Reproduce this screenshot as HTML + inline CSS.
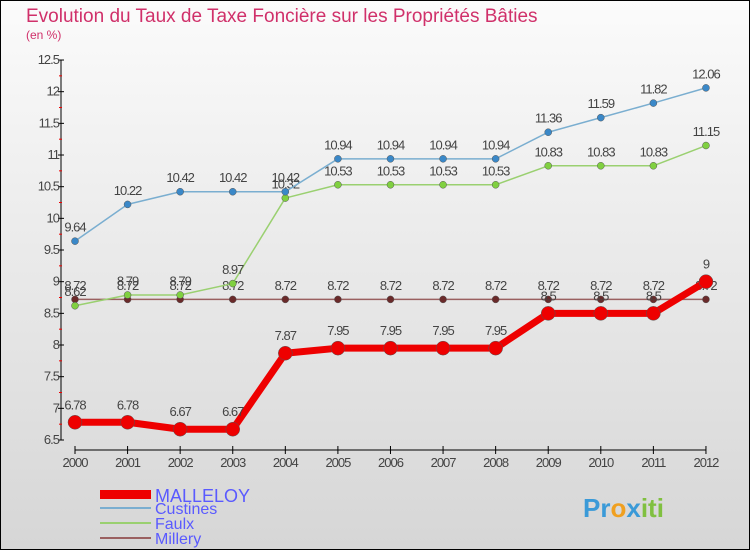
<!DOCTYPE html>
<html><head><meta charset="utf-8"><style>
body{margin:0;}
#c{width:750px;height:550px;position:relative;overflow:hidden;}
text{font-family:"Liberation Sans",sans-serif;}
</style></head><body>
<div id="c">
<svg id="s" width="750" height="550" xmlns="http://www.w3.org/2000/svg">
<defs><linearGradient id="bg" x1="0" y1="0" x2="0" y2="1"><stop offset="0" stop-color="#fbfbfb"/><stop offset="1" stop-color="#d6d6d6"/></linearGradient></defs>
<rect x="0.5" y="0.5" width="749" height="549" fill="url(#bg)" stroke="#000"/>
<text x="26" y="22" font-size="19" fill="#d0306a">Evolution du Taux de Taxe Foncière sur les Propriétés Bâties</text>
<text x="26" y="39" font-size="12" fill="#d0306a">(en %)</text>
<g id="axes"></g><g id="series"></g>
<g>
<rect x="100" y="490" width="51" height="9" fill="#e00"/>
<text x="155" y="502" font-size="18" fill="#5a5aff">MALLELOY</text>
<line x1="100" y1="508" x2="151" y2="508" stroke="#7aaed0" stroke-width="2"/>
<text x="155" y="514" font-size="16" fill="#5a5aff">Custines</text>
<line x1="100" y1="523" x2="151" y2="523" stroke="#9ad070" stroke-width="2"/>
<text x="155" y="529" font-size="16" fill="#5a5aff">Faulx</text>
<line x1="100" y1="538" x2="151" y2="538" stroke="#9a6060" stroke-width="2"/>
<text x="155" y="544" font-size="16" fill="#5a5aff">Millery</text>
</g>
<text x="583" y="517" font-size="26" font-weight="bold" fill="#3a9ad8">Pr<tspan fill="#f0a020">o</tspan><tspan fill="#3a9ad8">x</tspan><tspan fill="#80c040">iti</tspan></text>
</svg></div>
<script>
const years=[2000,2001,2002,2003,2004,2005,2006,2007,2008,2009,2010,2011,2012];
const malleloy=[6.78,6.78,6.67,6.67,7.87,7.95,7.95,7.95,7.95,8.5,8.5,8.5,9];
const custines=[9.64,10.22,10.42,10.42,10.42,10.94,10.94,10.94,10.94,11.36,11.59,11.82,12.06];
const faulx=[8.62,8.79,8.79,8.97,10.32,10.53,10.53,10.53,10.53,10.83,10.83,10.83,11.15];
const millery=[8.72,8.72,8.72,8.72,8.72,8.72,8.72,8.72,8.72,8.72,8.72,8.72,8.72];
const yTicks=["6.5","7","7.5","8","8.5","9","9.5","10","10.5","11","11.5","12","12.5"];
const NS="http://www.w3.org/2000/svg";
const X=i=>75+i*52.58;
const Y=v=>440-(v-6.5)*63.33;
function mk(tag,attrs,parent,txt){const e=document.createElementNS(NS,tag);for(const k in attrs)e.setAttribute(k,attrs[k]);if(txt!==undefined)e.textContent=txt;parent.appendChild(e);return e;}
const ax=document.getElementById('axes'),sg=document.getElementById('series');
let a=mk('line',{x1:61,y1:60,x2:61,y2:440,stroke:'#000'},ax);

yTicks.forEach((t,i)=>{const v=parseFloat(t),y=Y(v);
 let l=mk('line',{x1:58,y1:y,x2:64,y2:y,stroke:'#000'},ax);
 
 let tx=mk('text',{x:59,y:y+4,'font-size':13,fill:'#444','text-anchor':'end','letter-spacing':'-1'},ax,t);
 
 if(i<yTicks.length-1){let m=mk('line',{x1:59,y1:Y(v+0.25),x2:62,y2:Y(v+0.25),stroke:'#e00'},ax);
 }
});
a=mk('line',{x1:75,y1:450,x2:706,y2:450,stroke:'#000'},ax);

years.forEach((yr,i)=>{let l=mk('line',{x1:X(i),y1:446,x2:X(i),y2:454,stroke:'#000'},ax);
 
 let t=mk('text',{x:X(i),y:467,'font-size':13,fill:'#444','text-anchor':'middle','letter-spacing':'-1'},ax,yr);
 });
function series(name,vals,color,dot,w,r,fs){
 const g=mk('g',{},sg);
 const p=mk('polyline',{points:vals.map((v,i)=>X(i)+','+Y(v)).join(' '),fill:'none',stroke:color,'stroke-width':w,'stroke-linejoin':'round'},g);
 
 vals.forEach((v,i)=>{const c=mk('circle',{cx:X(i),cy:Y(v),r:r,fill:dot,stroke:'#555','stroke-width':0.5},g);
 
 const t=mk('text',{x:X(i),y:Y(v)-(r+6),'font-size':fs,fill:'#444','text-anchor':'middle','letter-spacing':'-1'},g,String(v));
 });
}
series('millery',millery,'#9a6060','#6a2a2a',1.5,3.5,13);
series('faulx',faulx,'#9ad070','#80d040',1.5,3.5,13);
series('custines',custines,'#7aaed0','#3a88c8',1.5,3.5,13);
series('malleloy',malleloy,'#e00','#e00',7,7,13);
</script>
</body></html>
